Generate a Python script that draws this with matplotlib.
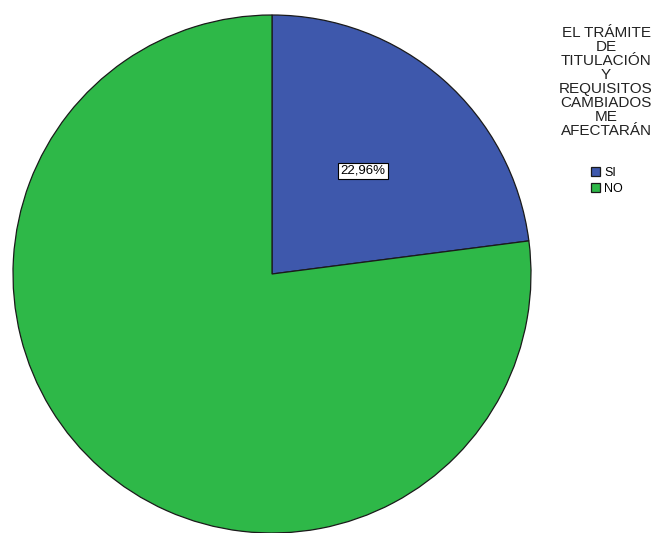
import matplotlib.pyplot as plt

plt.rcParams['font.family'] = ['Liberation Sans', 'DejaVu Sans']

# data
categories = ["SI", "NO"]
percentages = [22.96, 77.04]
colors = ["#3e58ac", "#2eb848"]
legend_title = "EL TRÁMITE\nDE\nTITULACIÓN\nY\nREQUISITOS\nCAMBIADOS\nME\nAFECTARÁN"

W, H = 658, 533
fig = plt.figure(figsize=(W / 100, H / 100), dpi=100)
ax = fig.add_axes([0, 0, 1, 1])

cx, cy, r = 272, H - 274, 259


def fmt(p):
    # only the small slice is labelled in the original
    if p < 50:
        return ("%.2f%%" % p).replace(".", ",")
    return ""


wedges, texts, autotexts = ax.pie(
    percentages, colors=colors, startangle=90, counterclock=False,
    center=(cx, cy), radius=r, autopct=fmt, pctdistance=0.53,
    wedgeprops=dict(edgecolor="#1a1a1a", linewidth=0.9),
    textprops=dict(fontsize=9.5, color="black"))
for t in autotexts:
    if t.get_text():
        t.set_bbox(dict(facecolor="white", edgecolor="black", linewidth=0.8,
                        boxstyle="square,pad=0.18"))

ax.set_xlim(0, W)
ax.set_ylim(0, H)
ax.set_aspect("equal")
ax.axis("off")

# legend title
fig.text(606 / W, 1 - 26 / H, legend_title, ha="center", va="top",
         fontsize=11, linespacing=1.0, color="#222222", multialignment="center")

leg = ax.legend(wedges, categories, loc="upper left",
                bbox_to_anchor=(591 / W, 1 - 167 / H), bbox_transform=fig.transFigure,
                frameon=False, fontsize=9, handlelength=0.75, handleheight=0.75,
                handletextpad=0.3, labelspacing=0.3, borderpad=0, borderaxespad=0)

fig.savefig("out.png", dpi=100)
